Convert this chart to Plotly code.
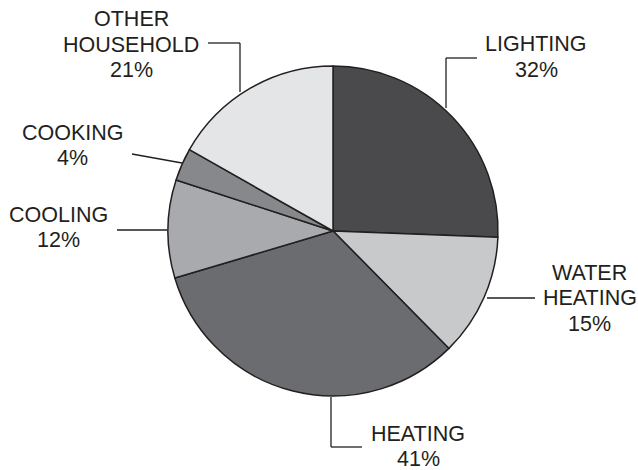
import plotly.graph_objects as go

# ---- data ----
categories = ["LIGHTING", "WATER<br>HEATING", "HEATING", "COOLING", "COOKING", "OTHER<br>HOUSEHOLD"]
values = [32, 15, 41, 12, 4, 21]
pct_labels = ["32%", "15%", "41%", "12%", "4%", "21%"]
colors = ["#4a4a4c", "#c8c9cb", "#6b6c70", "#a9aaad", "#87888c", "#e4e5e7"]

W, H = 638, 470
INK = "#231f20"
FONT = "Liberation Sans, Arial, Helvetica, sans-serif"
FS = 21.5


def px(x, y):
    """convert window pixel position to paper coordinates"""
    return x / W, 1 - y / H


# pie placement (window pixels)
cx, cy, r = 333, 231, 165
dx0, dy1 = px(cx - r, cy - r)
dx1, dy0 = px(cx + r, cy + r)

fig = go.Figure()
fig.add_trace(go.Pie(
    labels=[c.replace("<br>", " ") for c in categories],
    values=values,
    sort=False,
    direction="clockwise",
    rotation=0,
    textinfo="none",
    hoverinfo="label+text",
    text=pct_labels,
    marker=dict(colors=colors, line=dict(color=INK, width=1.5)),
    domain=dict(x=[dx0, dx1], y=[dy0, dy1]),
    showlegend=False,
))

# label layout: (center x, baseline of first line) in window pixels
label_pos = [(536, 52), (589.5, 280), (418, 441.2), (58, 222), (72.5, 140), (131, 26.7)]
LINE_GAP = 25.5

annotations = []
for cat, pct, (lx, ly) in zip(categories, pct_labels, label_pos):
    lines = cat.split("<br>") + [pct]
    for i, t in enumerate(lines):
        xx, yy = px(lx, ly + i * LINE_GAP - 7.5)
        annotations.append(dict(
            x=xx, y=yy, xref="paper", yref="paper", text=t, showarrow=False,
            xanchor="center", yanchor="middle", borderpad=0,
            font=dict(family=FONT, size=FS, color=INK),
        ))

# leader lines (window-pixel polylines)
leaders = [
    [(446, 108), (446, 58), (477, 58)],
    [(487, 298), (535, 298)],
    [(331, 397), (331, 447), (362, 447)],
    [(117, 230), (167, 230)],
    [(132, 154), (182, 163)],
    [(208, 43), (240, 43), (240, 92)],
]
shapes = []
for pts in leaders:
    for (x0, y0), (x1, y1) in zip(pts[:-1], pts[1:]):
        a0, b0 = px(x0, y0)
        a1, b1 = px(x1, y1)
        shapes.append(dict(type="line", xref="paper", yref="paper",
                           x0=a0, y0=b0, x1=a1, y1=b1,
                           line=dict(color=INK, width=1.3)))

fig.update_layout(
    width=W, height=H,
    margin=dict(l=0, r=0, t=0, b=0),
    paper_bgcolor="white",
    plot_bgcolor="white",
    annotations=annotations,
    shapes=shapes,
)

fig.write_html(
    "out.html",
    config={"displayModeBar": False},
    post_script="document.body.style.margin='0';document.body.style.overflow='hidden';",
)
